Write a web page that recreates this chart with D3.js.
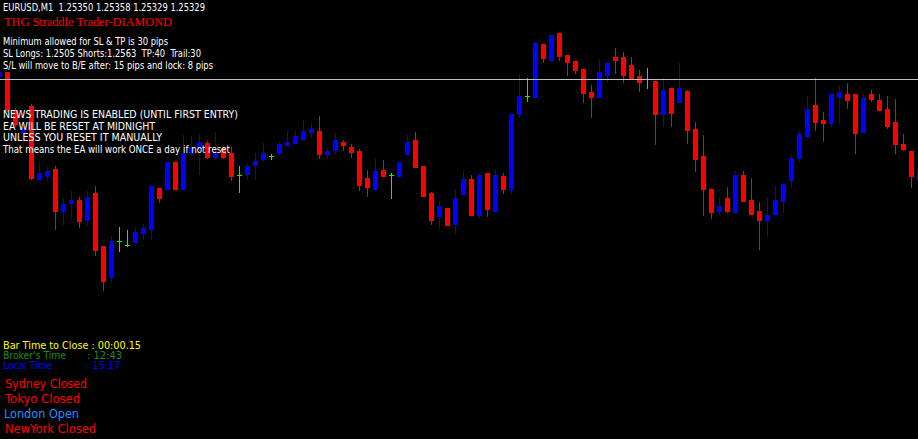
<!DOCTYPE html>
<html>
<head>
<meta charset="utf-8">
<script src="https://cdn.jsdelivr.net/npm/d3@7"></script>
<style>
  html, body { margin: 0; padding: 0; background: #000; overflow: hidden; }
  svg { display: block; }
</style>
</head>
<body>
<svg id="chart" width="918" height="439"></svg>
<script>
// ---- data (EURUSD M1 bars) ----
const symbol = "EURUSD,M1";
const lastQuote = ["1.25350", "1.25358", "1.25329", "1.25329"];
const bidPrice = 1.25329;
const priceView = [1.24969, 1.25408];

const open = [1.25332,1.25336,1.25298,1.25275,1.25302,1.25229,1.25232,1.25239,1.25197,1.25205,1.25208,1.25188,1.25215,1.25162,1.25131,1.25167,1.25163,1.25166,1.25175,1.25179,1.25220,1.25219,1.25246,1.25219,1.25255,1.25260,1.25265,1.25251,1.25260,1.25255,1.25233,1.25234,1.25243,1.25249,1.25252,1.25255,1.25263,1.25265,1.25269,1.25276,1.25277,1.25254,1.25258,1.25266,1.25261,1.25257,1.25230,1.25219,1.25238,1.25233,1.25232,1.25254,1.25268,1.25242,1.25215,1.25192,1.25200,1.25184,1.25214,1.25229,1.25193,1.25235,1.25197,1.25232,1.25219,1.25294,1.25312,1.25311,1.25364,1.25348,1.25375,1.25353,1.25347,1.25339,1.25316,1.25311,1.25333,1.25351,1.25351,1.25343,1.25332,1.25329,1.25327,1.25294,1.25320,1.25306,1.25317,1.25279,1.25252,1.25219,1.25197,1.25210,1.25196,1.25233,1.25208,1.25197,1.25188,1.25194,1.25207,1.25228,1.25250,1.25272,1.25303,1.25288,1.25285,1.25311,1.25314,1.25314,1.25276,1.25314,1.25308,1.25299,1.25286,1.25264,1.25257,1.25228];
const high = [1.25336,1.25336,1.25300,1.25286,1.25304,1.25247,1.25241,1.25242,1.25210,1.25217,1.25211,1.25217,1.25222,1.25162,1.25172,1.25181,1.25178,1.25181,1.25184,1.25222,1.25220,1.25246,1.25246,1.25273,1.25272,1.25274,1.25267,1.25276,1.25261,1.25261,1.25242,1.25245,1.25255,1.25265,1.25254,1.25266,1.25277,1.25277,1.25288,1.25285,1.25292,1.25260,1.25275,1.25268,1.25264,1.25259,1.25238,1.25250,1.25248,1.25235,1.25246,1.25273,1.25276,1.25242,1.25216,1.25207,1.25200,1.25219,1.25237,1.25233,1.25235,1.25235,1.25238,1.25235,1.25294,1.25334,1.25330,1.25366,1.25364,1.25373,1.25375,1.25353,1.25347,1.25339,1.25323,1.25349,1.25345,1.25360,1.25356,1.25351,1.25338,1.25340,1.25327,1.25330,1.25320,1.25345,1.25318,1.25286,1.25273,1.25220,1.25211,1.25221,1.25237,1.25237,1.25230,1.25206,1.25211,1.25222,1.25224,1.25253,1.25277,1.25312,1.25330,1.25296,1.25314,1.25323,1.25325,1.25314,1.25314,1.25318,1.25314,1.25312,1.25309,1.25274,1.25257,1.25238];
const low = [1.25332,1.25297,1.25282,1.25260,1.25229,1.25229,1.25228,1.25179,1.25184,1.25190,1.25181,1.25183,1.25153,1.25118,1.25126,1.25157,1.25162,1.25166,1.25169,1.25169,1.25206,1.25219,1.25219,1.25219,1.25253,1.25234,1.25250,1.25249,1.25250,1.25228,1.25216,1.25229,1.25229,1.25247,1.25249,1.25254,1.25263,1.25265,1.25268,1.25271,1.25250,1.25250,1.25255,1.25258,1.25251,1.25218,1.25212,1.25219,1.25232,1.25210,1.25232,1.25254,1.25241,1.25212,1.25184,1.25180,1.25183,1.25175,1.25214,1.25193,1.25190,1.25192,1.25197,1.25215,1.25215,1.25291,1.25307,1.25311,1.25346,1.25347,1.25348,1.25333,1.25335,1.25306,1.25291,1.25311,1.25326,1.25335,1.25326,1.25330,1.25317,1.25320,1.25264,1.25282,1.25282,1.25306,1.25265,1.25237,1.25193,1.25190,1.25194,1.25196,1.25196,1.25207,1.25194,1.25159,1.25172,1.25194,1.25196,1.25221,1.25247,1.25272,1.25278,1.25267,1.25282,1.25285,1.25300,1.25255,1.25276,1.25307,1.25298,1.25280,1.25255,1.25258,1.25221,1.25228];
const close = [1.25336,1.25298,1.25284,1.25280,1.25230,1.25235,1.25237,1.25197,1.25204,1.25208,1.25187,1.25211,1.25158,1.25127,1.25167,1.25167,1.25163,1.25176,1.25180,1.25222,1.25210,1.25246,1.25219,1.25255,1.25261,1.25266,1.25251,1.25256,1.25251,1.25232,1.25233,1.25242,1.25247,1.25255,1.25252,1.25264,1.25266,1.25272,1.25277,1.25279,1.25254,1.25257,1.25268,1.25263,1.25256,1.25223,1.25221,1.25237,1.25232,1.25233,1.25246,1.25266,1.25241,1.25212,1.25188,1.25202,1.25183,1.25210,1.25229,1.25193,1.25233,1.25199,1.25233,1.25219,1.25294,1.25312,1.25312,1.25365,1.25350,1.25373,1.25352,1.25346,1.25338,1.25315,1.25311,1.25336,1.25345,1.25348,1.25333,1.25330,1.25326,1.25329,1.25294,1.25318,1.25295,1.25320,1.25278,1.25249,1.25219,1.25196,1.25202,1.25197,1.25233,1.25207,1.25194,1.25188,1.25193,1.25208,1.25224,1.25250,1.25274,1.25299,1.25286,1.25285,1.25314,1.25316,1.25308,1.25275,1.25310,1.25309,1.25298,1.25282,1.25264,1.25259,1.25232,1.25238];

const eaTitle = "THG Straddle Trader-DIAMOND";
const eaInfo = [
  "Minimum allowed for SL & TP is 30 pips",
  "SL Longs: 1.2505 Shorts:1.2563  TP:40  Trail:30",
  "S/L will move to B/E after: 15 pips and lock: 8 pips"
];
const newsInfo = [
  "NEWS TRADING IS ENABLED (UNTIL FIRST ENTRY)",
  "EA WILL BE RESET AT MIDNIGHT",
  "UNLESS YOU RESET IT MANUALLY",
  "That means the EA will work ONCE a day if not reset"
];
const clockLabels = ["Bar Time to Close", "Broker's Time", "Local Time"];
const clockValues = ["00:00.15", "12:43", "15:17"];
const sessions = ["Sydney", "Tokyo", "London", "NewYork"];
const sessionState = ["Closed", "Closed", "Open", "Closed"];

// ---- drawing ----
const W = 918, H = 439;
const svg = d3.select("#chart");
svg.append("rect").attr("width", W).attr("height", H).attr("fill", "#000");

const bars = d3.range(open.length).map(i => ({i, o: open[i], h: high[i], l: low[i], c: close[i]}));
const x = d3.scaleLinear().domain([0, bars.length]).range([-0.5, -0.5 + 8 * bars.length]);
const y = d3.scaleLinear().domain(priceView).range([H, 0]);
const Y = v => Math.round(y(v));

const colorOf = d => d.c > d.o ? "#0000ff" : (d.c < d.o ? "#ff0000" : "#00ff00");

const g = svg.append("g").attr("shape-rendering", "crispEdges");
const cg = g.selectAll("g.bar").data(bars).join("g").attr("class", "bar");

cg.append("rect")
  .attr("x", d => x(d.i) - 0.5)
  .attr("width", 1)
  .attr("y", d => Y(d.h))
  .attr("height", d => Y(d.l) - Y(d.h) + 1)
  .attr("fill", colorOf);

cg.append("rect")
  .attr("x", d => x(d.i) - 2.5)
  .attr("width", 5)
  .attr("y", d => Y(Math.max(d.o, d.c)))
  .attr("height", d => d.o === d.c ? 1 : Y(Math.min(d.o, d.c)) - Y(Math.max(d.o, d.c)) + 1)
  .attr("fill", colorOf);

// bid line
svg.append("line")
  .attr("x1", 0).attr("x2", W)
  .attr("y1", Y(bidPrice) + 0.5).attr("y2", Y(bidPrice) + 0.5)
  .attr("stroke", "#c0c0c0").attr("stroke-width", 1)
  .attr("shape-rendering", "crispEdges");

// ---- texts ----
const sans = "'DejaVu Sans', Tahoma, sans-serif";
function label(txt, xx, yy, color, size, width, family) {
  const t = svg.append("text")
    .attr("x", xx).attr("y", yy)
    .attr("fill", color)
    .attr("font-family", family || sans)
    .attr("font-size", size)
    .attr("xml:space", "preserve")
    .text(txt);
  if (width) t.attr("textLength", width).attr("lengthAdjust", "spacingAndGlyphs");
  return t;
}

label(symbol + "  " + lastQuote.join(" "), 3, 11, "#ffffff", 10, 202);
label(eaTitle, 4, 26, "#ff0000", 13.5, 168, "'Liberation Serif', 'Times New Roman', serif");

const infoW = [165, 198, 210];
eaInfo.forEach((s, k) => label(s, 3, 45 + k * 12, "#ffffff", 10, infoW[k]));

const newsW = [235, 152, 159, 227];
newsInfo.forEach((s, k) => label(s, 3, 118 + k * 11.7, "#ffffff", 10, newsW[k]));

label(clockLabels[0] + " : " + clockValues[0], 3, 349, "#ffff00", 10, 138);
label(clockLabels[1], 3, 359, "#1a8c1a", 10, 63);
label(": " + clockValues[1], 87, 359, "#1a8c1a", 10, 35);
label(clockLabels[2], 3, 369, "#0000ff", 10, 49);
label(": " + clockValues[2], 86, 369, "#0000ff", 10, 34);

const sesColor = s => s === "Open" ? "#1e90ff" : "#ff0000";
const sesW = [82, 75, 75, 91];
const sesX = [5, 5, 4, 5];
sessions.forEach((s, k) => label(s + " " + sessionState[k], sesX[k], 388 + k * 15, sesColor(sessionState[k]), 12.5, sesW[k]));
</script>
</body>
</html>
